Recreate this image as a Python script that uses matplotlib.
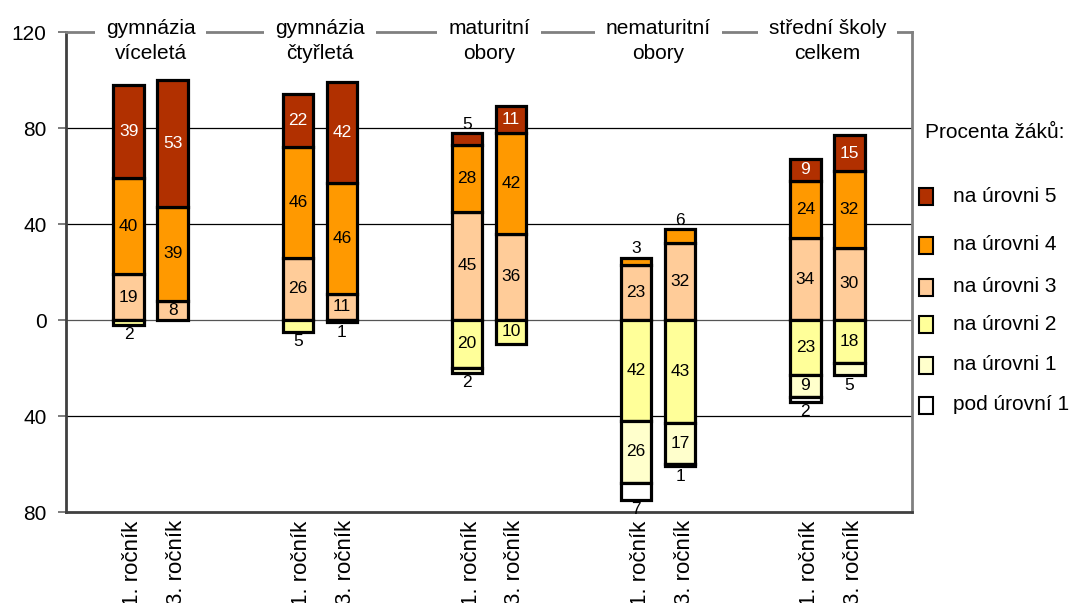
import matplotlib
matplotlib.use("Agg")
import matplotlib.pyplot as plt
import matplotlib.transforms as mtransforms
from matplotlib.patches import Rectangle
import numpy as np

plt.rcParams['font.family'] = ['Liberation Sans', 'DejaVu Sans']

groups = ["gymnázia\nvíceletá", "gymnázia\nčtyřletá", "maturitní\nobory",
          "nematuritní\nobory", "střední školy\ncelkem"]
bar_labels = ["1. ročník", "3. ročník"] * 5

# positive side (from 0 upward): level 3, level 4, level 5
lvl3 = [19, 8, 26, 11, 45, 36, 23, 32, 34, 30]
lvl4 = [40, 39, 46, 46, 28, 42, 3, 6, 24, 32]
lvl5 = [39, 53, 22, 42, 5, 11, 0, 0, 9, 15]
# negative side (from 0 downward): level 2, level 1, below level 1
lvl2 = [2, 0, 5, 1, 20, 10, 42, 43, 23, 18]
lvl1 = [0, 0, 0, 0, 2, 0, 26, 17, 9, 5]
below1 = [0, 0, 0, 0, 0, 0, 7, 1, 2, 0]

legend_names = ["na úrovni 5", "na úrovni 4", "na úrovni 3",
                "na úrovni 2", "na úrovni 1", "pod úrovní 1"]
colors = {"5": "#B13000", "4": "#FF9900", "3": "#FFCC99",
          "2": "#FFFF99", "1": "#FFFFCC", "0": "#FFFFFF"}

yticks = [120, 80, 40, 0, -40, -80]
ytick_labels = ["120", "80", "40", "0", "40", "80"]

FS = 15
FS_BAR = 12.5

fig = plt.figure(figsize=(10.72, 6.03), dpi=100)
ax = fig.add_axes([66/1072, 1-512/603, (912-66)/1072, (512-32)/603])

n = len(lvl3)
xpos = []
for g in range(5):
    xpos += [g - 0.13, g + 0.13]
xpos = np.array(xpos)
width = 0.18
edge = dict(edgecolor="black", linewidth=2.3, zorder=3)

for i in range(n):
    x = xpos[i]
    bottom = 0
    pos_segs = [(lvl3[i], "3"), (lvl4[i], "4"), (lvl5[i], "5")]
    for val, lv in pos_segs:
        if val > 0:
            ax.bar(x, val, width, bottom=bottom, color=colors[lv], **edge)
            if val >= 8:
                ax.text(x, bottom + val/2, str(val), ha="center", va="center",
                        fontsize=FS_BAR, color="white" if lv == "5" else "black", zorder=4)
            else:
                ax.text(x, bottom + val + 0.5, str(val), ha="center", va="bottom",
                        fontsize=FS_BAR, color="black", zorder=4)
            bottom += val
    bottom = 0
    neg_segs = [(lvl2[i], "2"), (lvl1[i], "1"), (below1[i], "0")]
    for val, lv in neg_segs:
        if val > 0:
            ax.bar(x, -val, width, bottom=bottom, color=colors[lv], **edge)
            if val >= 8:
                ax.text(x, bottom - val/2, str(val), ha="center", va="center",
                        fontsize=FS_BAR, color="black", zorder=4)
            else:
                ax.text(x, bottom - val - 1.0, str(val), ha="center", va="top",
                        fontsize=FS_BAR, color="black", zorder=4)
            bottom -= val

ax.set_xlim(-0.5, 4.5)
ax.set_ylim(-80, 120)

for yv in [80, 40, -40]:
    ax.axhline(yv, color="black", linewidth=0.9, zorder=1)
ax.axhline(0, color="#555555", linewidth=0.9, zorder=1)

ax.set_yticks(yticks)
ax.set_yticklabels(ytick_labels, fontsize=FS)
ax.tick_params(axis="y", length=6, width=1.2, color="#666666", pad=8)
ax.set_xticks(xpos)
ax.set_xticklabels(bar_labels, rotation=90, fontsize=16, va="top")
ax.tick_params(axis="x", length=0, pad=6)
offset = mtransforms.ScaledTranslation(4/100, 0, fig.dpi_scale_trans)
for lab in ax.get_xticklabels():
    lab.set_transform(lab.get_transform() + offset)

for s in ["left", "bottom"]:
    ax.spines[s].set_color("#404040")
    ax.spines[s].set_linewidth(2.0)
for s in ["top", "right"]:
    ax.spines[s].set_color("#808080")
    ax.spines[s].set_linewidth(2.0)

for g, name in enumerate(groups):
    ax.annotate(name, xy=(g, 1.0), xycoords=("data", "axes fraction"),
                xytext=(0, 9), textcoords="offset points",
                ha="center", va="top", fontsize=FS, zorder=5, linespacing=1.35,
                bbox=dict(facecolor="white", edgecolor="none", pad=8),
                annotation_clip=False)

fig.text(925/1072, 1-133/603, "Procenta žáků:", fontsize=FS, ha="left", va="center")
leg_y = [196, 245, 287, 324, 365, 405]
leg_col = ["5", "4", "3", "2", "1", "0"]
for yy, lv, name in zip(leg_y, leg_col, legend_names):
    fig.patches.append(Rectangle((919/1072, 1-(yy+9)/603), 14/1072, 17/603,
                                 transform=fig.transFigure, facecolor=colors[lv],
                                 edgecolor="black", linewidth=1.5))
    fig.text(953/1072, 1-yy/603, name, fontsize=FS, ha="left", va="center")

fig.savefig("out.png", dpi=100)
